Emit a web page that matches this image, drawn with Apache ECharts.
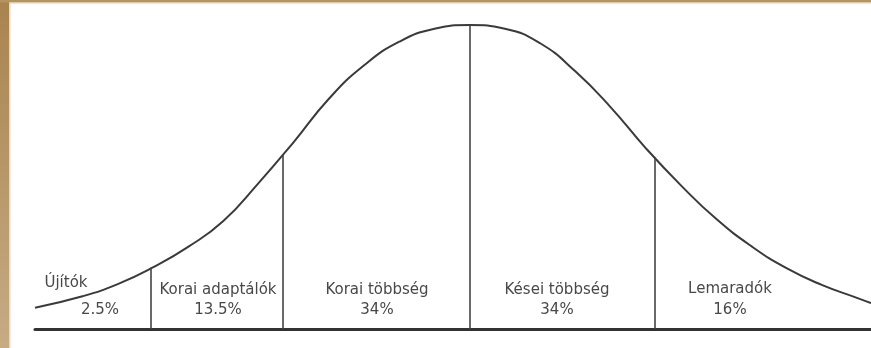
<!DOCTYPE html>
<html>
<head>
<meta charset="utf-8">
<title>Innovációk terjedése</title>
<script src="https://cdn.jsdelivr.net/npm/echarts@6/dist/echarts.min.js"></script>
<style>
  html, body { margin: 0; padding: 0; background: #ffffff; }
  #chart { width: 871px; height: 348px; }
</style>
</head>
<body>
<div id="chart"></div>
<script>
// Bell curve of adopter categories (x in standard-deviation units, y = relative density)
const curveX = [-2.47, -2.2, -2.0, -1.8, -1.6, -1.4, -1.2, -1.0, -0.8, -0.6, -0.4, -0.2, 0,
                0.2, 0.4, 0.6, 0.8, 1.0, 1.2, 1.4, 1.6, 1.8, 2.0, 2.2, 2.28];
const curveY = [0.028, 0.043, 0.059, 0.081, 0.108, 0.142, 0.192, 0.246, 0.303, 0.347, 0.378, 0.395, 0.400,
                0.395, 0.376, 0.339, 0.292, 0.238, 0.189, 0.145, 0.109, 0.080, 0.058, 0.041, 0.034];

// Category boundaries and the height where each divider meets the curve
const boundaryX = [-1.81, -1.06, 0, 1.05];
const boundaryTop = [0.081, 0.230, 0.400, 0.226];

// Adopter categories and their shares
const categories = ['Újítók', 'Korai adaptálók', 'Korai többség', 'Kései többség', 'Lemaradók'];
const shares = ['2.5%', '13.5%', '34%', '34%', '16%'];

// Text placement (pixels): name line and share line for each category
const nameAnchor = [[66, 283], [218, 290], [377, 290], [557, 290], [730, 289]];
const shareAnchor = [[100, 310], [218, 310], [377, 310], [557, 310], [730, 310]];

const chart = echarts.init(document.getElementById('chart'), null, { renderer: 'canvas' });

const textFont = '15px "DejaVu Sans", Verdana, sans-serif';
const textColor = '#484848';

const labelElements = [];
categories.forEach((name, i) => {
  labelElements.push({
    type: 'text', x: nameAnchor[i][0], y: nameAnchor[i][1], z: 10,
    style: { text: name, font: textFont, fill: textColor, align: 'center', verticalAlign: 'middle' }
  });
  labelElements.push({
    type: 'text', x: shareAnchor[i][0], y: shareAnchor[i][1], z: 10,
    style: { text: shares[i], font: textFont, fill: textColor, align: 'center', verticalAlign: 'middle' }
  });
});

// Frame along the left and top edges
const frameElements = [
  { type: 'rect', shape: { x: 0, y: 0, width: 9, height: 348 }, z: 20,
    style: { fill: new echarts.graphic.LinearGradient(0, 0, 0, 1, [
      { offset: 0, color: '#a8844f' }, { offset: 1, color: '#c6ab84' }]) } },
  { type: 'rect', shape: { x: 9, y: 3, width: 1.5, height: 345 }, z: 20, style: { fill: '#e6dac2' } },
  { type: 'rect', shape: { x: 0, y: 0, width: 871, height: 2.5 }, z: 20, style: { fill: '#b4935f' } },
  { type: 'rect', shape: { x: 9, y: 2.5, width: 862, height: 1 }, z: 20, style: { fill: '#ddcdad' } }
];

chart.setOption({
  animation: false,
  backgroundColor: '#ffffff',
  grid: { left: 35, right: 0, top: 25, bottom: 19 },
  xAxis: {
    type: 'value', min: -2.47, max: 2.28,
    axisLine: { show: true, onZero: false, lineStyle: { color: '#333333', width: 3 } },
    axisTick: { show: false }, axisLabel: { show: false }, splitLine: { show: false }
  },
  yAxis: {
    type: 'value', min: 0, max: 0.4, show: false,
    splitLine: { show: false }
  },
  series: [{
    type: 'line',
    data: curveX.map((x, i) => [x, curveY[i]]),
    smooth: 0.5,
    showSymbol: false,
    clip: false,
    lineStyle: { color: '#3a3a3a', width: 2 },
    markLine: {
      silent: true,
      symbol: 'none',
      label: { show: false },
      lineStyle: { color: '#444444', width: 1.6, type: 'solid' },
      data: boundaryX.map((x, i) => [{ coord: [x, 0] }, { coord: [x, boundaryTop[i]] }])
    }
  }],
  graphic: frameElements.concat(labelElements)
});
</script>
</body>
</html>
